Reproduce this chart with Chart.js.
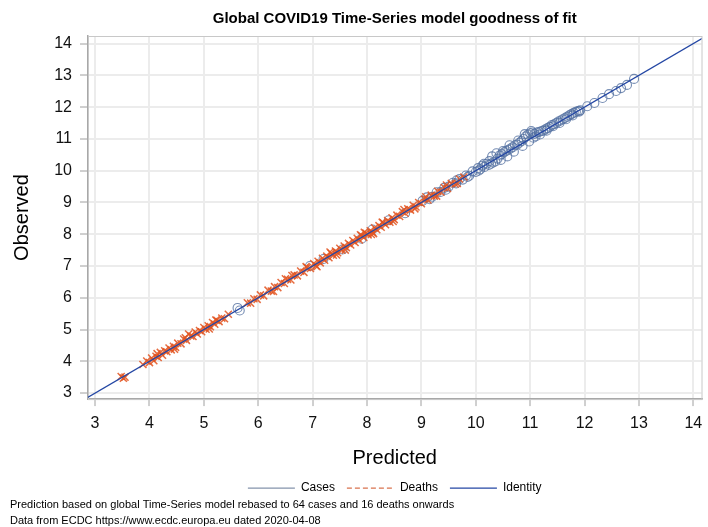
<!DOCTYPE html>
<html lang="en">
<head>
  <meta charset="utf-8" />
  <title>Global COVID19 Time-Series model goodness of fit</title>
  <script src="https://cdn.jsdelivr.net/npm/chart.js"></script>
  <style>
    html, body { margin: 0; padding: 0; background: #fff; }
    #wrap { width: 708px; height: 527px; }
  </style>
</head>
<body>
  <div id="wrap"><canvas id="fitChart" width="708" height="527"></canvas></div>

  <script>
    // Cases: predicted vs observed (log scale values)
    const casesPred = [5.62, 5.66, 6.95, 7.20, 7.55, 7.90, 8.10, 8.40, 8.70, 9.02, 9.10, 9.15, 9.20, 9.28, 9.35,
      9.42, 9.45, 9.50, 9.58, 9.64, 9.65, 9.70, 9.76, 9.82, 9.85, 9.88, 9.94, 10.00, 10.04, 10.05, 10.08,
      10.12, 10.15, 10.16, 10.20, 10.24, 10.25, 10.28, 10.30, 10.32, 10.36, 10.38, 10.40, 10.44, 10.46,
      10.48, 10.50, 10.52, 10.56, 10.58, 10.60, 10.62, 10.64, 10.68, 10.70, 10.72, 10.76, 10.78, 10.80,
      10.84, 10.86, 10.88, 10.90, 10.92, 10.96, 10.98, 11.00, 11.02, 11.04, 11.06, 11.08, 11.10, 11.12,
      11.16, 11.18, 11.20, 11.24, 11.28, 11.30, 11.32, 11.36, 11.40, 11.42, 11.44, 11.48, 11.52, 11.54,
      11.56, 11.60, 11.64, 11.66, 11.68, 11.72, 11.76, 11.78, 11.80, 11.84, 11.88, 11.90, 11.92,
      12.05, 12.18, 12.33, 12.45, 12.58, 12.67, 12.78, 12.91];
    const casesObs = [5.68, 5.60, 7.00, 7.22, 7.52, 7.86, 8.15, 8.44, 8.66, 9.05, 9.16, 9.10, 9.18, 9.32, 9.33,
      9.46, 9.40, 9.50, 9.62, 9.60, 9.70, 9.74, 9.72, 9.85, 9.80, 9.84, 9.98, 9.96, 10.08, 10.00, 10.04,
      10.16, 10.22, 10.12, 10.22, 10.18, 10.30, 10.22, 10.45, 10.26, 10.29, 10.55, 10.38, 10.48, 10.34,
      10.52, 10.62, 10.58, 10.62, 10.45, 10.66, 10.80, 10.70, 10.74, 10.60, 10.80, 10.82, 10.95, 10.88,
      10.93, 10.78, 11.00, 11.15, 11.08, 11.14, 10.92, 11.18, 11.25, 11.20, 11.04, 11.16, 11.08, 11.20,
      11.22, 11.14, 11.24, 11.26, 11.30, 11.26, 11.34, 11.38, 11.44, 11.40, 11.46, 11.50, 11.55, 11.50,
      11.58, 11.62, 11.66, 11.62, 11.70, 11.74, 11.78, 11.74, 11.82, 11.85, 11.88, 11.86, 11.90,
      12.03, 12.13, 12.29, 12.41, 12.51, 12.60, 12.70, 12.89];

    // Deaths: predicted vs observed
    const deathsPred = [3.48, 3.52, 3.55, 3.88, 3.95, 4.00, 4.04, 4.08, 4.12, 4.14, 4.16, 4.20, 4.24, 4.28,
      4.32, 4.36, 4.40, 4.44, 4.46, 4.48, 4.52, 4.58, 4.63, 4.66, 4.68, 4.72, 4.76, 4.80, 4.84, 4.88,
      4.92, 4.96, 5.00, 5.04, 5.08, 5.10, 5.12, 5.16, 5.20, 5.22, 5.24, 5.28, 5.33, 5.38, 5.45,
      5.80, 5.86, 5.92, 5.98, 6.04, 6.10, 6.18, 6.24, 6.28, 6.30, 6.36, 6.42, 6.48, 6.50, 6.54, 6.60,
      6.62, 6.66, 6.72, 6.78, 6.84, 6.88, 6.90, 6.96, 7.02, 7.06, 7.08, 7.10, 7.14, 7.18, 7.22, 7.26,
      7.30, 7.32, 7.34, 7.38, 7.42, 7.44, 7.46, 7.50, 7.54, 7.58, 7.60, 7.62, 7.66, 7.70, 7.74, 7.78,
      7.82, 7.86, 7.88, 7.90, 7.94, 7.95, 7.98, 8.02, 8.06, 8.08, 8.10, 8.12, 8.14, 8.18, 8.22, 8.26,
      8.28, 8.30, 8.34, 8.38, 8.42, 8.46, 8.48, 8.50, 8.55, 8.60, 8.65, 8.68, 8.70, 8.75, 8.80, 8.85,
      8.88, 8.90, 8.95, 9.00, 9.06, 9.08, 9.12, 9.18, 9.24, 9.28, 9.30, 9.36, 9.42, 9.46, 9.48, 9.55,
      9.62, 9.66, 9.70, 9.78];
    const deathsObs = [3.52, 3.47, 3.50, 3.90, 4.01, 3.96, 4.10, 4.02, 4.16, 4.24, 4.12, 4.28, 4.19, 4.33,
      4.30, 4.42, 4.36, 4.47, 4.38, 4.44, 4.57, 4.55, 4.70, 4.74, 4.66, 4.86, 4.80, 4.78, 4.92, 4.86,
      4.97, 4.93, 5.06, 5.01, 5.12, 5.02, 5.09, 5.22, 5.17, 5.30, 5.29, 5.25, 5.36, 5.34, 5.48,
      5.84, 5.83, 5.97, 5.95, 6.09, 6.06, 6.24, 6.21, 6.20, 6.35, 6.32, 6.48, 6.45, 6.60, 6.58, 6.56,
      6.70, 6.72, 6.69, 6.84, 6.80, 6.98, 6.95, 6.92, 7.08, 7.01, 6.98, 7.15, 7.10, 7.24, 7.18, 7.31,
      7.26, 7.44, 7.40, 7.34, 7.47, 7.35, 7.42, 7.56, 7.50, 7.63, 7.50, 7.58, 7.71, 7.66, 7.80, 7.74,
      7.87, 7.82, 7.98, 7.96, 7.90, 8.06, 8.04, 7.98, 8.11, 7.99, 8.06, 8.02, 8.20, 8.14, 8.27, 8.22,
      8.38, 8.36, 8.30, 8.43, 8.38, 8.52, 8.40, 8.46, 8.60, 8.56, 8.71, 8.78, 8.66, 8.80, 8.76, 8.91,
      8.80, 8.86, 9.00, 8.96, 9.11, 9.18, 9.08, 9.23, 9.20, 9.20, 9.35, 9.32, 9.47, 9.55, 9.44, 9.60,
      9.58, 9.60, 9.74, 9.80];

    // Identity line end points (clipped to the plot area)
    const identityX = [2.5, 14.5];

    // Tick values
    const xTicks = [3, 4, 5, 6, 7, 8, 9, 10, 11, 12, 13, 14];
    const yTicks = [3, 4, 5, 6, 7, 8, 9, 10, 11, 12, 13, 14];

    const footnotes = [
      'Prediction based on global Time-Series model rebased to 64 cases and 16 deaths onwards',
      'Data from ECDC https://www.ecdc.europa.eu dated 2020-04-08'
    ];

    Chart.defaults.font.family = '"Liberation Sans", Arial, sans-serif';
    Chart.defaults.color = '#000';

    // light frame around the plot area
    const frame = {
      id: 'frame',
      beforeDatasetsDraw(chart) {
        const a = chart.chartArea, ctx = chart.ctx;
        ctx.save();
        ctx.strokeStyle = '#c8c8c8';
        ctx.lineWidth = 1;
        ctx.strokeRect(a.left + 0.5, a.top + 0.5, a.right - a.left, a.bottom - a.top);
        ctx.restore();
      }
    };

    const ctx = document.getElementById('fitChart').getContext('2d');
    new Chart(ctx, {
      type: 'scatter',
      data: {
        datasets: [
          {
            label: 'Cases',
            data: casesPred.map((x, i) => ({ x: x, y: casesObs[i] })),
            pointStyle: 'circle',
            pointRadius: 4.5,
            borderWidth: 1.1,
            borderColor: 'rgba(84,112,160,0.8)',
            backgroundColor: 'rgba(0,0,0,0)',
            order: 2
          },
          {
            label: 'Deaths',
            data: deathsPred.map((x, i) => ({ x: x, y: deathsObs[i] })),
            pointStyle: 'crossRot',
            pointRadius: 5,
            borderWidth: 1.5,
            borderColor: 'rgba(226,84,32,0.85)',
            backgroundColor: 'rgba(226,84,32,0.85)',
            order: 1
          },
          {
            label: 'Identity',
            type: 'line',
            data: identityX.map(v => ({ x: v, y: v })),
            borderColor: '#2447a4',
            borderWidth: 1.2,
            pointRadius: 0,
            fill: false,
            order: 0
          }
        ]
      },
      options: {
        responsive: false,
        animation: false,
        layout: { padding: { left: 10, right: 0, top: 0, bottom: 0 } },
        plugins: {
          title: {
            display: true,
            fullSize: false,
            text: 'Global COVID19 Time-Series model goodness of fit',
            font: { size: 15, weight: 'bold' },
            padding: { top: 10, bottom: 8 }
          },
          subtitle: {
            display: true,
            position: 'bottom',
            align: 'start',
            text: footnotes,
            font: { size: 11, lineHeight: 1.45 },
            padding: { top: -7, bottom: -2 }
          },
          legend: {
            position: 'bottom',
            fullSize: false,
            labels: {
              font: { size: 12 },
              usePointStyle: true,
              pointStyleWidth: 47,
              padding: 12,
              generateLabels: () => [
                { text: 'Cases', pointStyle: 'line', strokeStyle: '#8493ab', fillStyle: '#8493ab', lineWidth: 1.2, lineDash: [], hidden: false, datasetIndex: 0 },
                { text: 'Deaths', pointStyle: 'line', strokeStyle: '#d9734f', fillStyle: '#d9734f', lineWidth: 1.2, lineDash: [5, 3], hidden: false, datasetIndex: 1 },
                { text: 'Identity', pointStyle: 'line', strokeStyle: '#2447a4', fillStyle: '#2447a4', lineWidth: 1.2, lineDash: [], hidden: false, datasetIndex: 2 }
              ]
            }
          },
          tooltip: { enabled: false }
        },
        scales: {
          x: {
            type: 'linear',
            min: 2.87,
            max: 14.15,
            afterBuildTicks: s => { s.ticks = xTicks.map(v => ({ value: v })); },
            afterFit: s => { s.height = 71; s.paddingLeft = 0; s.paddingRight = 0; },
            ticks: { font: { size: 16 }, padding: 8, maxRotation: 0, color: '#111' },
            grid: { color: '#ececec', lineWidth: 2, tickLength: 7, tickColor: '#a0a0a0', tickWidth: 1 },
            border: { color: '#a8a8a8', width: 1.5 },
            title: { display: true, text: 'Predicted', font: { size: 20 }, padding: { top: 0, bottom: 0 } }
          },
          y: {
            type: 'linear',
            min: 2.81,
            max: 14.24,
            afterBuildTicks: s => { s.ticks = yTicks.map(v => ({ value: v })); },
            afterFit: s => { s.width = 78; s.paddingTop = 0; s.paddingBottom = 0; },
            ticks: { font: { size: 16 }, padding: 8, color: '#111' },
            grid: { color: '#ececec', lineWidth: 2, tickLength: 8, tickColor: '#a0a0a0', tickWidth: 1 },
            border: { color: '#a8a8a8', width: 1.5 },
            title: { display: true, text: 'Observed', font: { size: 20 }, padding: { top: 0, bottom: 0 } }
          }
        }
      },
      plugins: [frame]
    });
  </script>
</body>
</html>
